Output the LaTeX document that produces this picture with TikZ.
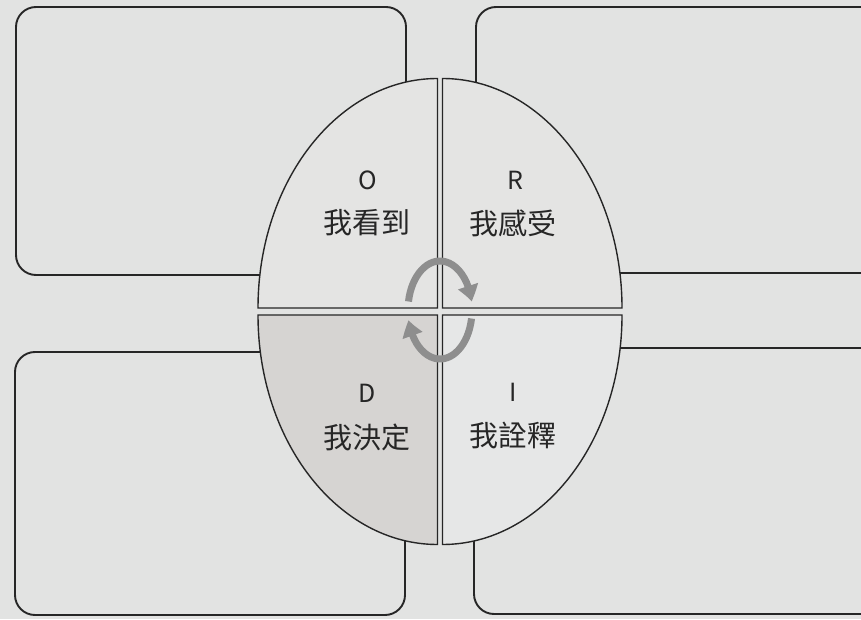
\documentclass[tikz,border=0pt]{standalone}
\usepackage{fontspec}
\newfontfamily\cjk{Noto Sans CJK TC}
\usetikzlibrary{arrows.meta,bending}
\definecolor{bgc}{HTML}{E2E3E2}
\definecolor{qlight}{HTML}{E4E4E3}
\definecolor{qi}{HTML}{E6E7E7}
\definecolor{qd}{HTML}{D6D4D2}
\definecolor{arrowc}{HTML}{8E8E8E}
\tikzset{
  card/.style={draw=black!85, line width=1.9pt, rounded corners=20pt, fill=bgc},
  quad/.style={draw=black!85, line width=1.4pt},
  letter/.style={font=\cjk\fontsize{25}{28}\selectfont, text=black!85, inner sep=0pt},
  word/.style={font=\cjk\fontsize{29}{32}\selectfont, text=black!85, inner sep=0pt},
  cyc/.style={draw=arrowc, line width=7pt, -{Triangle[width=20pt,length=16pt,bend]}}
}
\begin{document}
\begin{tikzpicture}[x=1pt,y=1pt]
\useasboundingbox (0,0) rectangle (861,619);
\fill[bgc] (0,0) rectangle (861,619);
% outer cards
\draw[card] (16,612) rectangle (406,344);
\draw[card] (476,612) rectangle (895,346);
\draw[card] (15,267) rectangle (405,4);
\draw[card] (474,271) rectangle (895,5);
% quadrants
\def\cx{440}\def\cy{307.5}\def\gx{2.5}\def\gy{3.5}\def\rx{179.5}\def\ry{229.5}
\draw[quad, fill=qlight] (\cx-\gx,\cy+\gy) -- ++(-\rx,0) arc[start angle=180, end angle=90, x radius=\rx, y radius=\ry] -- cycle;
\draw[quad, fill=qlight] (\cx+\gx,\cy+\gy) -- ++(\rx,0) arc[start angle=0, end angle=90, x radius=\rx, y radius=\ry] -- cycle;
\draw[quad, fill=qd] (\cx-\gx,\cy-\gy) -- ++(-\rx,0) arc[start angle=180, end angle=270, x radius=\rx, y radius=\ry] -- cycle;
\draw[quad, fill=qi] (\cx+\gx,\cy-\gy) -- ++(\rx,0) arc[start angle=0, end angle=-90, x radius=\rx, y radius=\ry] -- cycle;
% labels
\node[letter] (o) at (368,439) {O};
\node[word] (ow) at (367,396) {我看到};
\node[letter] (r) at (515,439) {R};
\node[word] (rw) at (513,396) {我感受};
\node[letter] (d) at (367,226) {D};
\node[word] (dw) at (367,182) {我決定};
\node[letter] (i) at (513,227) {I};
\node[word] (iw) at (513,184) {我詮釋};
% cycle arrows
\coordinate (c) at (440,309);
\draw[cyc] ([shift={(170:32 and 49)}]c) arc[start angle=170, end angle=10, x radius=32, y radius=49];
\draw[cyc] ([shift={(-10:32 and 49)}]c) arc[start angle=-10, end angle=-168, x radius=32, y radius=49];
\end{tikzpicture}
\end{document}
